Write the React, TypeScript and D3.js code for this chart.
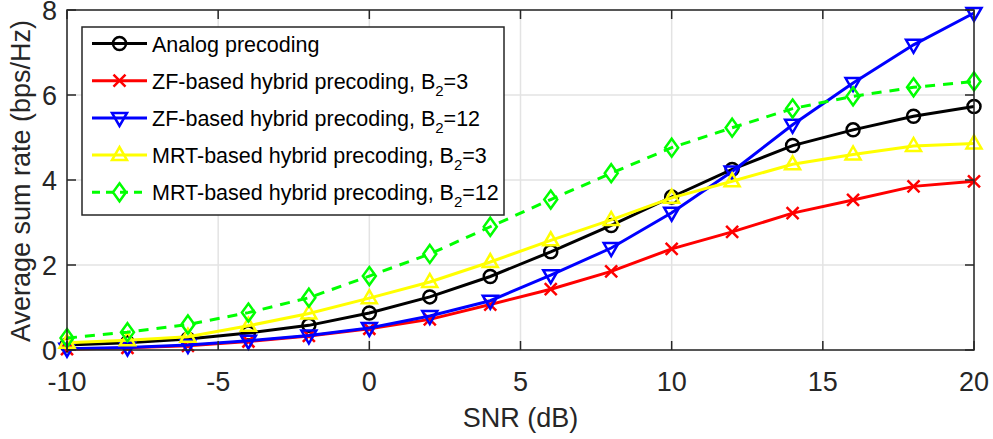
import * as d3 from "d3";

const snr = [-10, -8, -6, -4, -2, 0, 2, 4, 6, 8, 10, 12, 14, 16, 18, 20];
const analog = [0.12, 0.17, 0.26, 0.4, 0.58, 0.87, 1.25, 1.73, 2.31, 2.93, 3.6, 4.25, 4.81, 5.18, 5.5, 5.73];
const zf3 = [0.02, 0.05, 0.1, 0.2, 0.33, 0.5, 0.72, 1.07, 1.43, 1.85, 2.38, 2.78, 3.22, 3.53, 3.85, 3.97];
const zf12 = [0.03, 0.06, 0.12, 0.22, 0.34, 0.52, 0.8, 1.16, 1.76, 2.4, 3.23, 4.2, 5.3, 6.28, 7.18, 7.93];
const mrt3 = [0.17, 0.23, 0.31, 0.57, 0.86, 1.22, 1.6, 2.07, 2.58, 3.06, 3.58, 3.97, 4.37, 4.6, 4.8, 4.86];
const mrt12 = [0.28, 0.42, 0.6, 0.88, 1.23, 1.74, 2.26, 2.9, 3.54, 4.16, 4.76, 5.23, 5.68, 5.97, 6.18, 6.32];

const xTicks = [-10, -5, 0, 5, 10, 15, 20];
const yTicks = [0, 2, 4, 6, 8];

type Series = { name: string; sub?: string; values: number[]; color: string; marker: string; dash?: string };

const series: Series[] = [
  { name: "Analog precoding", values: analog, color: "#000000", marker: "circle" },
  { name: "ZF-based hybrid precoding, B", sub: "=3", values: zf3, color: "#ff0000", marker: "x" },
  { name: "ZF-based hybrid precoding, B", sub: "=12", values: zf12, color: "#0000ff", marker: "tridown" },
  { name: "MRT-based hybrid precoding, B", sub: "=3", values: mrt3, color: "#ffff00", marker: "triup" },
  { name: "MRT-based hybrid precoding, B", sub: "=12", values: mrt12, color: "#00ff00", marker: "diamond", dash: "10,8" },
];

const W = 993, H = 439;
const left = 67, right = 974, top = 10, bottom = 350;
const font = "'Liberation Sans', Arial, Helvetica, sans-serif";
const axisColor = "#262626";

function Marker({ kind, x, y, color }: { kind: string; x: number; y: number; color: string }) {
  const sw = 2.5;
  if (kind === "circle") return <circle cx={x} cy={y} r={6.5} fill="none" stroke={color} strokeWidth={sw} />;
  if (kind === "x")
    return <path d={`M${x - 6},${y - 6}L${x + 6},${y + 6}M${x - 6},${y + 6}L${x + 6},${y - 6}`} stroke={color} strokeWidth={sw} />;
  if (kind === "tridown")
    return <path d={`M${x - 7.5},${y - 5}L${x + 7.5},${y - 5}L${x},${y + 8}Z`} fill="none" stroke={color} strokeWidth={sw} />;
  if (kind === "triup")
    return <path d={`M${x - 7.5},${y + 5}L${x + 7.5},${y + 5}L${x},${y - 8}Z`} fill="none" stroke={color} strokeWidth={sw} />;
  return <path d={`M${x},${y - 9}L${x + 6.5},${y}L${x},${y + 9}L${x - 6.5},${y}Z`} fill="none" stroke={color} strokeWidth={sw} />;
}

export default function App() {
  const x = d3.scaleLinear().domain([-10, 20]).range([left, right]);
  const y = d3.scaleLinear().domain([0, 8]).range([bottom, top]);
  const line = d3.line<number>().x((_, i) => x(snr[i])).y((d) => y(d));

  const lg = { x: 82, y: 27, w: 422, h: 188, row: 37.2 };

  return (
    <svg width={W} height={H} style={{ position: "absolute", left: 0, top: 0, background: "#fff" }} fontFamily={font}>
      <rect x={0} y={0} width={W} height={H} fill="#fff" />
      {/* grid */}
      {xTicks.map((t) => (
        <line key={"gx" + t} x1={x(t)} x2={x(t)} y1={top} y2={bottom} stroke="#e3e3e3" strokeWidth={1.5} />
      ))}
      {yTicks.map((t) => (
        <line key={"gy" + t} x1={left} x2={right} y1={y(t)} y2={y(t)} stroke="#e3e3e3" strokeWidth={1.5} />
      ))}
      {/* series */}
      {series.map((s) => (
        <g key={s.name + (s.sub || "")}>
          <path d={line(s.values) || ""} fill="none" stroke={s.color} strokeWidth={3} strokeDasharray={s.dash} />
          {s.values.map((v, i) => (
            <Marker key={i} kind={s.marker} x={x(snr[i])} y={y(v)} color={s.color} />
          ))}
        </g>
      ))}
      {/* box + ticks */}
      <rect x={left} y={top} width={right - left} height={bottom - top} fill="none" stroke={axisColor} strokeWidth={1.5} />
      {xTicks.map((t) => (
        <g key={"tx" + t}>
          <line x1={x(t)} x2={x(t)} y1={bottom} y2={bottom - 9} stroke={axisColor} strokeWidth={1.5} />
          <line x1={x(t)} x2={x(t)} y1={top} y2={top + 9} stroke={axisColor} strokeWidth={1.5} />
          <text x={x(t)} y={bottom + 41} textAnchor="middle" fontSize={27} fill={axisColor}>
            {t}
          </text>
        </g>
      ))}
      {yTicks.map((t) => (
        <g key={"ty" + t}>
          <line x1={left} x2={left + 9} y1={y(t)} y2={y(t)} stroke={axisColor} strokeWidth={1.5} />
          <line x1={right} x2={right - 9} y1={y(t)} y2={y(t)} stroke={axisColor} strokeWidth={1.5} />
          <text x={left - 10} y={y(t) + 10} textAnchor="end" fontSize={27} fill={axisColor}>
            {t}
          </text>
        </g>
      ))}
      <text x={(left + right) / 2} y={427} textAnchor="middle" fontSize={27} fill={axisColor}>
        SNR (dB)
      </text>
      <text transform={`translate(30,${181}) rotate(-90)`} textAnchor="middle" fontSize={27} fill={axisColor}>
        Average sum rate (bps/Hz)
      </text>
      {/* legend */}
      <rect x={lg.x} y={lg.y} width={lg.w} height={lg.h} fill="#fff" stroke={axisColor} strokeWidth={1.5} />
      {series.map((s, i) => {
        const cy = lg.y + 16.5 + i * lg.row;
        return (
          <g key={"lg" + i}>
            <line x1={92} x2={147} y1={cy} y2={cy} stroke={s.color} strokeWidth={3} strokeDasharray={s.dash ? "8,6" : undefined} />
            <Marker kind={s.marker} x={119.5} y={cy} color={s.color} />
            <text x={152} y={cy + 8} fontSize={21.5} fill="#000">
              {s.name}
              {s.sub && (
                <>
                  <tspan fontSize={15} dy={7}>2</tspan>
                  <tspan dy={-7}>{s.sub}</tspan>
                </>
              )}
            </text>
          </g>
        );
      })}
    </svg>
  );
}
